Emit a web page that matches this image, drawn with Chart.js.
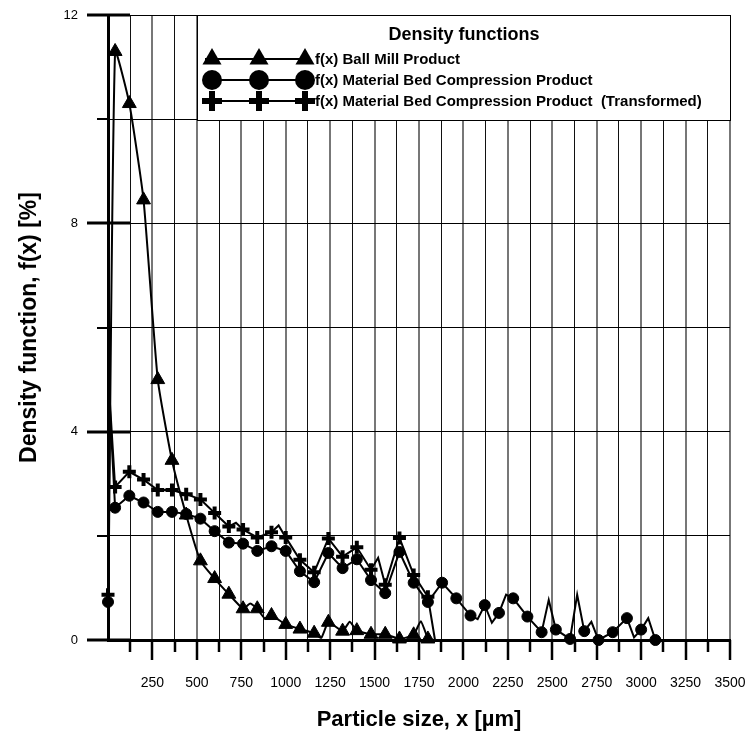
<!DOCTYPE html>
<html>
<head>
<meta charset="utf-8">
<script src="https://cdn.jsdelivr.net/npm/chart.js@4.4.0/dist/chart.umd.min.js"></script>
<style>
  html, body { margin: 0; padding: 0; background: #fff; }
  #wrap { width: 748px; height: 733px; }
</style>
</head>
<body>
<div id="wrap"><canvas id="chart" width="748" height="733"></canvas></div>
<script>
// ── DATA (particle size in µm, density in %) ────────────────────────
var ballX = [0, 40, 120, 200, 280, 360, 440, 520, 600, 680, 760, 800, 840, 880, 920, 1000, 1080, 1160, 1200, 1240, 1320, 1360, 1400, 1480, 1560, 1640, 1720, 1760, 1800];
var ballY = [0, 11.3, 10.3, 8.45, 5.0, 3.45, 2.4, 1.52, 1.18, 0.88, 0.6, 0.7, 0.6, 0.42, 0.47, 0.3, 0.21, 0.13, 0.04, 0.34, 0.17, 0.35, 0.18, 0.11, 0.11, 0.02, 0.1, 0.36, 0.02];

var bedX = [0, 10, 40, 120, 200, 280, 360, 440, 520, 600, 680, 760, 840, 920, 1000, 1080, 1160, 1240, 1320, 1400, 1480, 1560, 1640, 1720, 1800, 1880, 1960, 2040, 2080, 2120, 2160, 2200, 2240, 2280, 2360, 2440, 2480, 2520, 2600, 2640, 2680, 2720, 2760, 2840, 2920, 2960, 3000, 3040, 3080];
var bedY = [0.73, 4.5, 2.54, 2.77, 2.64, 2.46, 2.46, 2.42, 2.33, 2.09, 1.87, 1.85, 1.71, 1.8, 1.71, 1.32, 1.11, 1.67, 1.38, 1.55, 1.15, 0.9, 1.69, 1.1, 0.73, 1.1, 0.8, 0.47, 0.4, 0.67, 0.33, 0.52, 0.87, 0.8, 0.45, 0.15, 0.77, 0.2, 0.02, 0.87, 0.17, 0.35, 0, 0.15, 0.42, 0.05, 0.2, 0.42, 0];

var transX = [0, 10, 40, 120, 200, 280, 360, 440, 520, 600, 680, 720, 760, 840, 920, 960, 1000, 1080, 1160, 1240, 1320, 1400, 1480, 1520, 1560, 1640, 1720, 1800, 1840];
var transY = [0.87, 4.6, 2.94, 3.23, 3.08, 2.88, 2.88, 2.8, 2.7, 2.44, 2.18, 2.25, 2.12, 1.97, 2.07, 2.2, 1.97, 1.54, 1.3, 1.95, 1.6, 1.78, 1.35, 1.58, 1.06, 1.96, 1.25, 0.83, 0];

var xTicks = { min: 0, max: 3500, step: 125, labelEvery: 250 };
var yTicks = { min: 0, max: 12, step: 2, labelEvery: 4 };

var seriesNames = [
    "f(x) Ball Mill Product",
    "f(x) Material Bed Compression Product",
    "f(x) Material Bed Compression Product  (Transformed)"
];
var legendTitle = "Density functions";
var xTitle = "Particle size, x [µm]";
var yTitle = "Density function, f(x) [%]";

// ── HELPERS ─────────────────────────────────────────────────────────
var FONT = "'Liberation Sans', Arial, sans-serif";
Chart.defaults.font.family = FONT;
Chart.defaults.color = "#000";

function pairs(xs, ys) {
    var out = [];
    for (var i = 0; i < xs.length; i++) out.push({ x: xs[i], y: ys[i] });
    return out;
}

// markers sit on the 40 + 80k class points (and the origin point when flagged)
function markerSize(r, withOrigin) {
    return function (ctx) {
        if (!ctx.raw) return 0;
        var x = ctx.raw.x;
        if (x % 80 === 40) return r;
        if (x === 0 && withOrigin) return r;
        return 0;
    };
}

function drawMarker(ctx, style, x, y, r) {
    ctx.beginPath();
    if (style === "triangle") {
        ctx.moveTo(x, y - r);
        ctx.lineTo(x + r * 0.866, y + r / 2);
        ctx.lineTo(x - r * 0.866, y + r / 2);
        ctx.closePath();
        ctx.fill();
    } else if (style === "circle") {
        ctx.arc(x, y, r, 0, Math.PI * 2);
        ctx.fill();
    } else {
        ctx.lineWidth = 6;
        ctx.moveTo(x - r, y); ctx.lineTo(x + r, y);
        ctx.moveTo(x, y - r); ctx.lineTo(x, y + r);
        ctx.stroke();
    }
}

// ── PLUGINS ─────────────────────────────────────────────────────────
var axisTicks = {
    id: "axisTicks",
    afterDraw: function (chart) {
        var ctx = chart.ctx, xs = chart.scales.x, ys = chart.scales.y, a = chart.chartArea;
        ctx.save();
        ctx.strokeStyle = "#000";
        ys.ticks.forEach(function (t) {
            var py = Math.round(ys.getPixelForValue(t.value));
            ctx.beginPath();
            if (t.value % yTicks.labelEvery === 0) {
                ctx.lineWidth = 3;
                ctx.moveTo(a.left - 21, py); ctx.lineTo(a.left + 22, py);
            } else {
                ctx.lineWidth = 2;
                ctx.moveTo(a.left - 11, py); ctx.lineTo(a.left, py);
            }
            ctx.stroke();
        });
        xs.ticks.forEach(function (t) {
            if (t.value === 0) return;
            var px = Math.round(xs.getPixelForValue(t.value));
            var len = t.value % xTicks.labelEvery === 0 ? 20 : 12;
            ctx.lineWidth = 2.5;
            ctx.beginPath();
            ctx.moveTo(px, a.bottom); ctx.lineTo(px, a.bottom + len);
            ctx.stroke();
        });
        ctx.restore();
    }
};

var boxLegend = {
    id: "boxLegend",
    afterDatasetsDraw: function (chart) {
        var ctx = chart.ctx, a = chart.chartArea;
        var left = 197, top = a.top, bottom = 120;
        ctx.save();
        ctx.fillStyle = "#fff";
        ctx.fillRect(left, top + 1, a.right - left, bottom - top);
        ctx.strokeStyle = "#000";
        ctx.lineWidth = 1;
        ctx.strokeRect(left + 0.5, top + 0.5, a.right - left, bottom - top);

        ctx.fillStyle = "#000";
        ctx.textBaseline = "middle";
        ctx.textAlign = "center";
        ctx.font = "bold 18px " + FONT;
        ctx.fillText(legendTitle, 464, 35);

        var styles = ["triangle", "circle", "cross"];
        var sizes = [11, 10, 10];
        var rows = [59, 80, 101];
        ctx.font = "bold 15px " + FONT;
        ctx.textAlign = "left";
        for (var i = 0; i < 3; i++) {
            var y = rows[i];
            ctx.lineWidth = 2;
            ctx.beginPath();
            ctx.moveTo(205, y); ctx.lineTo(310, y);
            ctx.stroke();
            var mx = [212, 259, 305];
            for (var k = 0; k < 3; k++) drawMarker(ctx, styles[i], mx[k], y, sizes[i]);
            ctx.fillText(seriesNames[i], 315, y + 1);
        }
        ctx.restore();
    }
};

// ── CHART ───────────────────────────────────────────────────────────
new Chart(document.getElementById("chart"), {
    type: "line",
    data: {
        datasets: [
            {
                label: seriesNames[0],
                data: pairs(ballX, ballY),
                borderColor: "#000",
                borderWidth: 2,
                backgroundColor: "#000",
                pointStyle: "triangle",
                pointRadius: markerSize(8, false),
                pointBackgroundColor: "#000",
                pointBorderColor: "#000",
                pointBorderWidth: 1,
                tension: 0.15,
                clip: false
            },
            {
                label: seriesNames[1],
                data: pairs(bedX, bedY),
                borderColor: "#000",
                borderWidth: 2,
                backgroundColor: "#000",
                pointStyle: "circle",
                pointRadius: markerSize(5.5, true),
                pointBackgroundColor: "#000",
                pointBorderColor: "#000",
                pointBorderWidth: 1,
                tension: 0,
                clip: false
            },
            {
                label: seriesNames[2],
                data: pairs(transX, transY),
                borderColor: "#000",
                borderWidth: 2,
                backgroundColor: "#000",
                pointStyle: "cross",
                pointRadius: markerSize(6.5, true),
                pointBorderColor: "#000",
                pointBorderWidth: 4,
                tension: 0,
                clip: false
            }
        ]
    },
    options: {
        responsive: false,
        animation: false,
        events: [],
        layout: { padding: { left: 0, right: 18, top: 15, bottom: 0 } },
        plugins: { legend: { display: false }, tooltip: { enabled: false } },
        scales: {
            x: {
                type: "linear",
                min: xTicks.min,
                max: xTicks.max,
                afterFit: function (s) {
                    s.height = 93;
                    s.paddingLeft = 0; s.paddingRight = 0;
                    s.paddingTop = 0; s.paddingBottom = 0;
                },
                ticks: {
                    stepSize: xTicks.step,
                    autoSkip: false,
                    maxRotation: 0,
                    padding: 35,
                    font: { size: 14 },
                    color: "#000",
                    callback: function (v) { return (v !== 0 && v % xTicks.labelEvery === 0) ? String(v) : ""; }
                },
                grid: {
                    drawTicks: false,
                    color: function (c) { return c.tick && c.tick.value % 250 === 0 ? "#777" : "#111"; },
                    lineWidth: function (c) { return c.tick && c.tick.value % 250 === 0 ? 2 : 1; }
                },
                border: { display: true, width: 3, color: "#000" },
                title: {
                    display: true,
                    text: xTitle,
                    color: "#000",
                    font: { size: 22, weight: "bold" },
                    padding: { top: 0, bottom: 0 }
                }
            },
            y: {
                min: yTicks.min,
                max: yTicks.max,
                afterFit: function (s) {
                    s.width = 108;
                    s.paddingLeft = 0; s.paddingRight = 0;
                    s.paddingTop = 0; s.paddingBottom = 0;
                },
                ticks: {
                    stepSize: yTicks.step,
                    padding: 30,
                    font: { size: 13 },
                    color: "#000",
                    callback: function (v) { return v % yTicks.labelEvery === 0 ? String(v) : ""; }
                },
                grid: { drawTicks: false, color: "#000", lineWidth: 1 },
                border: { display: true, width: 3, color: "#000" },
                title: {
                    display: true,
                    text: yTitle,
                    color: "#000",
                    font: { size: 23, weight: "bold" },
                    padding: { top: 16, bottom: 0 }
                }
            }
        }
    },
    plugins: [boxLegend, axisTicks]
});
</script>
</body>
</html>
